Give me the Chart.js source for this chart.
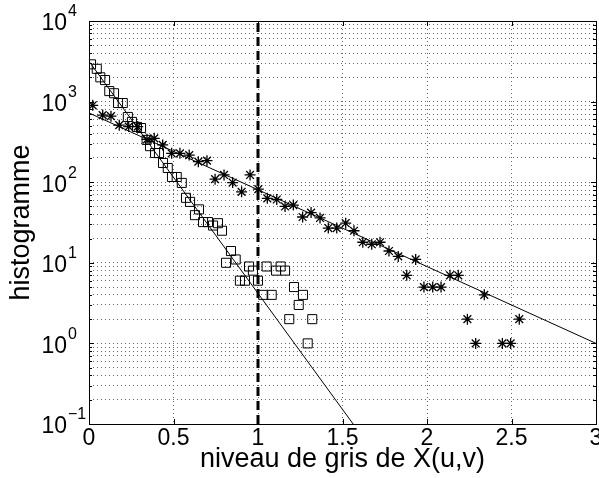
<!DOCTYPE html>
<html>
<head>
<meta charset="utf-8">
<script src="https://cdn.jsdelivr.net/npm/chart.js@4.4.0/dist/chart.umd.min.js"></script>
<style>
  html, body { margin: 0; padding: 0; background: #fff; }
  #wrap { width: 599px; height: 478px; position: relative; }
</style>
</head>
<body>
<div id="wrap"><canvas id="c"></canvas></div>
<script>
// histogram with square markers
const squareX = [0.012, 0.046, 0.067, 0.095, 0.12, 0.148, 0.172, 0.20, 0.23, 0.254, 0.284, 0.308, 0.341, 0.361, 0.391, 0.414,
  0.438, 0.466, 0.491, 0.519, 0.549, 0.574, 0.598, 0.627, 0.651, 0.675, 0.704, 0.734, 0.763, 0.787, 0.811, 0.84, 0.868,
  0.893, 0.923, 0.947, 0.970, 1.0, 1.031, 1.051, 1.081, 1.107, 1.134, 1.16, 1.185, 1.213, 1.241, 1.266, 1.294, 1.321];
const squareY = [2900, 2550, 2000, 1850, 1350, 1270, 960, 960, 645, 560, 485, 470, 335, 280, 230, 230,
  173, 150, 116, 116, 98, 64, 57, 39, 46, 32, 32, 29, 31, 25, 10, 14, 11,
  6, 6, 9, 8, 6, 4, 9, 4, 8, 9, 8, 2, 5, 3, 4, 1, 2];

// histogram with star markers
const starX = [0.022, 0.081, 0.13, 0.179, 0.235, 0.288, 0.343, 0.386, 0.436, 0.489, 0.538, 0.593, 0.647, 0.698, 0.746,
  0.799, 0.850, 0.903, 0.953, 1.002, 1.055, 1.111, 1.16, 1.209, 1.264, 1.314, 1.367, 1.416, 1.466, 1.519, 1.568, 1.62,
  1.673, 1.722, 1.775, 1.83, 1.88, 1.933, 1.982, 2.034, 2.083, 2.136, 2.185, 2.239, 2.288, 2.339, 2.446, 2.495, 2.546];
const starY = [900, 680, 660, 510, 490, 490, 340, 350, 290, 228, 228, 217, 180, 185, 109,
  123, 99, 76, 123, 82, 63, 61, 50, 52, 37, 42, 36, 27, 27, 31, 25, 18,
  17, 18, 14, 12, 7, 11, 5, 5, 5, 7, 7, 2, 1, 4, 1, 1, 2];

// fitted exponential lines (end points)
const fitSquareX = [0, 1.563];
const fitSquareY = [3160, 0.1];
const fitStarX = [0, 3];
const fitStarY = [723, 1.0];

// vertical dashed threshold
const threshX = [1, 1];
const threshY = [0.1, 10000];

const xTicks = [0, 0.5, 1, 1.5, 2, 2.5, 3];
const xTickLabels = ['0', '0.5', '1', '1.5', '2', '2.5', '3'];
const yDecades = [-1, 0, 1, 2, 3, 4];

const FONT = '"Liberation Sans", Arial, Helvetica, sans-serif';

var pts = function(xs, ys) {
  return xs.map((x, i) => ({x: x, y: ys[i]}));
};

var yTickValues = [];
yDecades.forEach(e => {
  const base = Math.pow(10, e);
  if (e === 4) { yTickValues.push(base); return; }
  for (let k = 1; k <= 9; k++) yTickValues.push(k * base);
});

const frame = {
  id: 'frame',
  afterDraw(chart) {
    const {ctx, chartArea: a, scales: {x, y}} = chart;
    ctx.save();
    ctx.strokeStyle = '#000';
    ctx.lineWidth = 1;
    ctx.strokeRect(Math.round(a.left) + 0.5, Math.round(a.top) + 0.5,
      Math.round(a.right - a.left), Math.round(a.bottom - a.top));
    // inward tick marks
    ctx.beginPath();
    xTicks.forEach(v => {
      const px = Math.round(x.getPixelForValue(v)) + 0.5;
      ctx.moveTo(px, a.bottom); ctx.lineTo(px, a.bottom - 5);
      ctx.moveTo(px, a.top); ctx.lineTo(px, a.top + 5);
    });
    yTickValues.forEach(v => {
      const py = Math.round(y.getPixelForValue(v)) + 0.5;
      const len = Math.abs(Math.log10(v) - Math.round(Math.log10(v))) < 1e-6 ? 5 : 3;
      ctx.moveTo(a.left, py); ctx.lineTo(a.left + len, py);
      ctx.moveTo(a.right, py); ctx.lineTo(a.right - len, py);
    });
    ctx.stroke();
    ctx.fillStyle = '#000';
    // x tick labels
    ctx.font = '23px ' + FONT;
    ctx.textAlign = 'center';
    ctx.textBaseline = 'top';
    xTicks.forEach((v, i) => {
      ctx.fillText(xTickLabels[i], x.getPixelForValue(v), a.bottom + 3);
    });
    // y labels as 10^n
    ctx.textBaseline = 'middle';
    yDecades.forEach(e => {
      const py = y.getPixelForValue(Math.pow(10, e));
      ctx.font = '23px ' + FONT;
      ctx.textAlign = 'right';
      ctx.fillText('10', 67, py + 3);
      ctx.font = '16px ' + FONT;
      ctx.textAlign = 'left';
      ctx.fillText(e < 0 ? '\u2212' + Math.abs(e) : String(e), 68, py - 9);
    });
    ctx.restore();
  }
};

new Chart(document.getElementById('c'), {
  type: 'scatter',
  data: {
    datasets: [
      {
        data: pts(threshX, threshY),
        showLine: true,
        borderColor: '#000',
        borderWidth: 3,
        borderDash: [9, 5],
        pointRadius: 0,
        order: 1
      },
      {
        data: pts(fitSquareX, fitSquareY),
        showLine: true,
        borderColor: '#000',
        borderWidth: 1,
        pointRadius: 0,
        order: 2
      },
      {
        data: pts(fitStarX, fitStarY),
        showLine: true,
        borderColor: '#000',
        borderWidth: 1,
        pointRadius: 0,
        order: 3
      },
      {
        data: pts(squareX, squareY),
        pointStyle: 'rect',
        pointRadius: 6.4,
        pointBorderWidth: 1,
        pointBorderColor: '#000',
        pointBackgroundColor: 'rgba(0,0,0,0)',
        order: 4
      },
      {
        data: pts(starX, starY),
        pointStyle: 'star',
        pointRadius: 5.5,
        pointBorderWidth: 1.3,
        pointBorderColor: '#000',
        pointBackgroundColor: 'rgba(0,0,0,0)',
        order: 5
      }
    ]
  },
  options: {
    responsive: true,
    maintainAspectRatio: false,
    animation: false,
    layout: { autoPadding: false, padding: { top: 21, right: 3, left: 0, bottom: 0 } },
    plugins: { legend: { display: false }, tooltip: { enabled: false } },
    scales: {
      x: {
        type: 'linear',
        min: 0,
        max: 3,
        afterBuildTicks: s => { s.ticks = xTicks.map(v => ({value: v})); },
        afterFit: s => { s.height = 54; },
        grid: { color: '#666', lineWidth: 1, drawTicks: false },
        border: { display: false, dash: [1, 3] },
        ticks: { display: false, autoSkip: false },
        title: {
          display: true,
          text: 'niveau de gris de X(u,v)',
          color: '#000',
          font: { family: FONT, size: 27 },
          padding: { top: 0, bottom: 2 }
        }
      },
      y: {
        type: 'logarithmic',
        min: 0.1,
        max: 10000,
        afterBuildTicks: s => { s.ticks = yTickValues.map(v => ({value: v})); },
        afterFit: s => { s.width = 89; },
        grid: { color: '#666', lineWidth: 1, drawTicks: false },
        border: { display: false, dash: [1, 3] },
        ticks: { display: false, autoSkip: false },
        title: {
          display: true,
          text: 'histogramme',
          color: '#000',
          font: { family: FONT, size: 27 },
          padding: { top: 5, bottom: 0 }
        }
      }
    }
  },
  plugins: [frame]
});
</script>
</body>
</html>
